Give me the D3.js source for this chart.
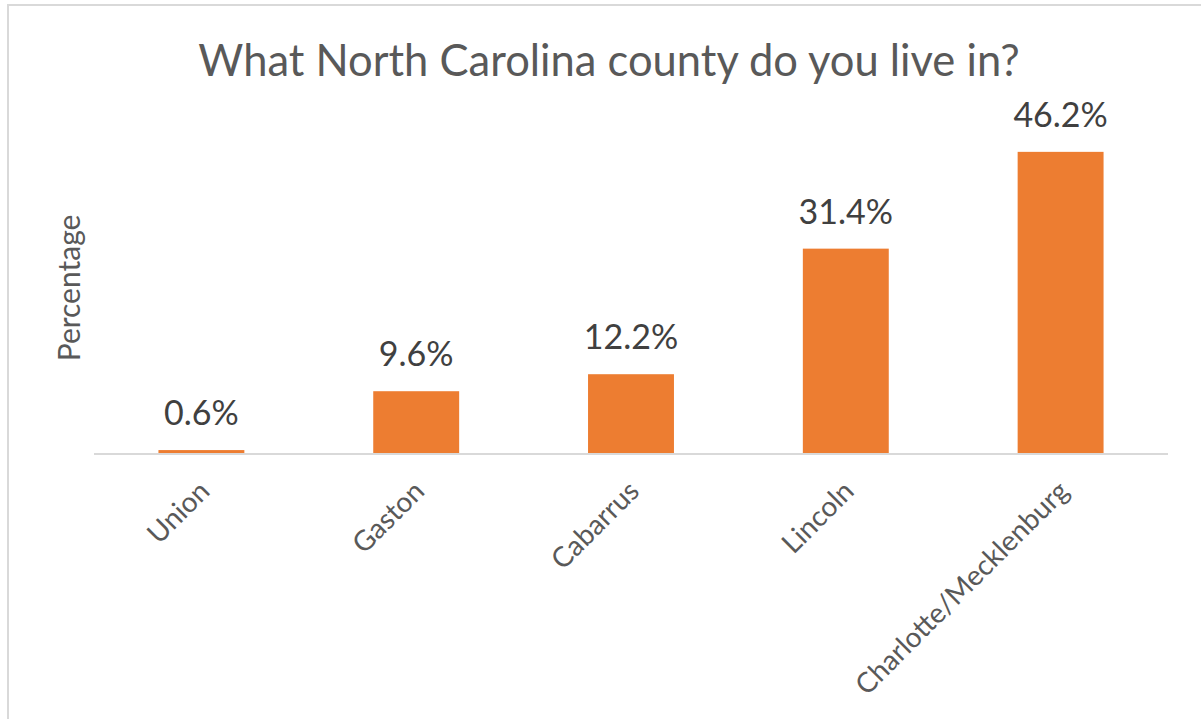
<!DOCTYPE html>
<html>
<head>
<meta charset="utf-8">
<script src="https://cdn.jsdelivr.net/npm/d3@7"></script>
<style>
  html, body { margin: 0; padding: 0; background: #fff; }
  svg { display: block; }
  text { font-family: Lato, "Open Sans", sans-serif; }
</style>
</head>
<body>
<svg id="chart" width="1201" height="719"></svg>
<script>
// Survey responses: share of respondents by county
const counties = ["Union", "Gaston", "Cabarrus", "Lincoln", "Charlotte/Mecklenburg"];
const percentages = [0.6, 9.6, 12.2, 31.4, 46.2];
const chartTitle = "What North Carolina county do you live in?";
const yAxisTitle = "Percentage";

const svg = d3.select("#chart");
const W = 1201, H = 719;

// chart frame (open on the right and bottom edges of the page)
svg.append("rect")
  .attr("x", 8).attr("y", 5)
  .attr("width", W + 20).attr("height", H + 20)
  .attr("fill", "#fff")
  .attr("stroke", "#d9d9d9").attr("stroke-width", 2);

const plot = { left: 94, right: 1168, bottom: 454, top: 127 };

const x = d3.scaleBand()
  .domain(counties)
  .range([plot.left, plot.right])
  .paddingInner(0.6)
  .paddingOuter(0.3);

const y = d3.scaleLinear()
  .domain([0, 50])
  .range([plot.bottom, plot.top]);

const data = counties.map((c, i) => ({ county: c, value: percentages[i] }));

// bars
svg.append("g").selectAll("rect")
  .data(data)
  .join("rect")
  .attr("x", d => x(d.county))
  .attr("y", d => y(d.value))
  .attr("width", x.bandwidth())
  .attr("height", d => y(0) - y(d.value))
  .attr("fill", "#ed7d31");

// category axis
const xAxis = d3.axisBottom(x).tickSize(0).tickPadding(0);
const gx = svg.append("g")
  .attr("transform", `translate(0,${plot.bottom})`)
  .call(xAxis);
gx.select(".domain").attr("stroke", "#d9d9d9").attr("stroke-width", 2)
  .attr("d", `M${plot.left},0H${plot.right}`);
gx.selectAll(".tick text")
  .attr("fill", "#595959")
  .attr("font-size", 28)
  .attr("text-anchor", "end")
  .attr("dy", "0.7em")
  .attr("transform", "translate(-4,25) rotate(-45)");

// value labels
svg.append("g").selectAll("text")
  .data(data)
  .join("text")
  .attr("x", d => x(d.county) + x.bandwidth() / 2)
  .attr("y", d => y(d.value) - 25)
  .attr("text-anchor", "middle")
  .attr("font-size", 34)
  .attr("fill", "#404040")
  .text(d => d.value.toFixed(1) + "%");

// titles
svg.append("text")
  .attr("x", 609).attr("y", 76)
  .attr("text-anchor", "middle")
  .attr("font-size", 43.5)
  .attr("fill", "#595959")
  .text(chartTitle);

svg.append("text")
  .attr("transform", "translate(80,288) rotate(-90)")
  .attr("text-anchor", "middle")
  .attr("font-size", 30)
  .attr("fill", "#595959")
  .text(yAxisTitle);
</script>
</body>
</html>
